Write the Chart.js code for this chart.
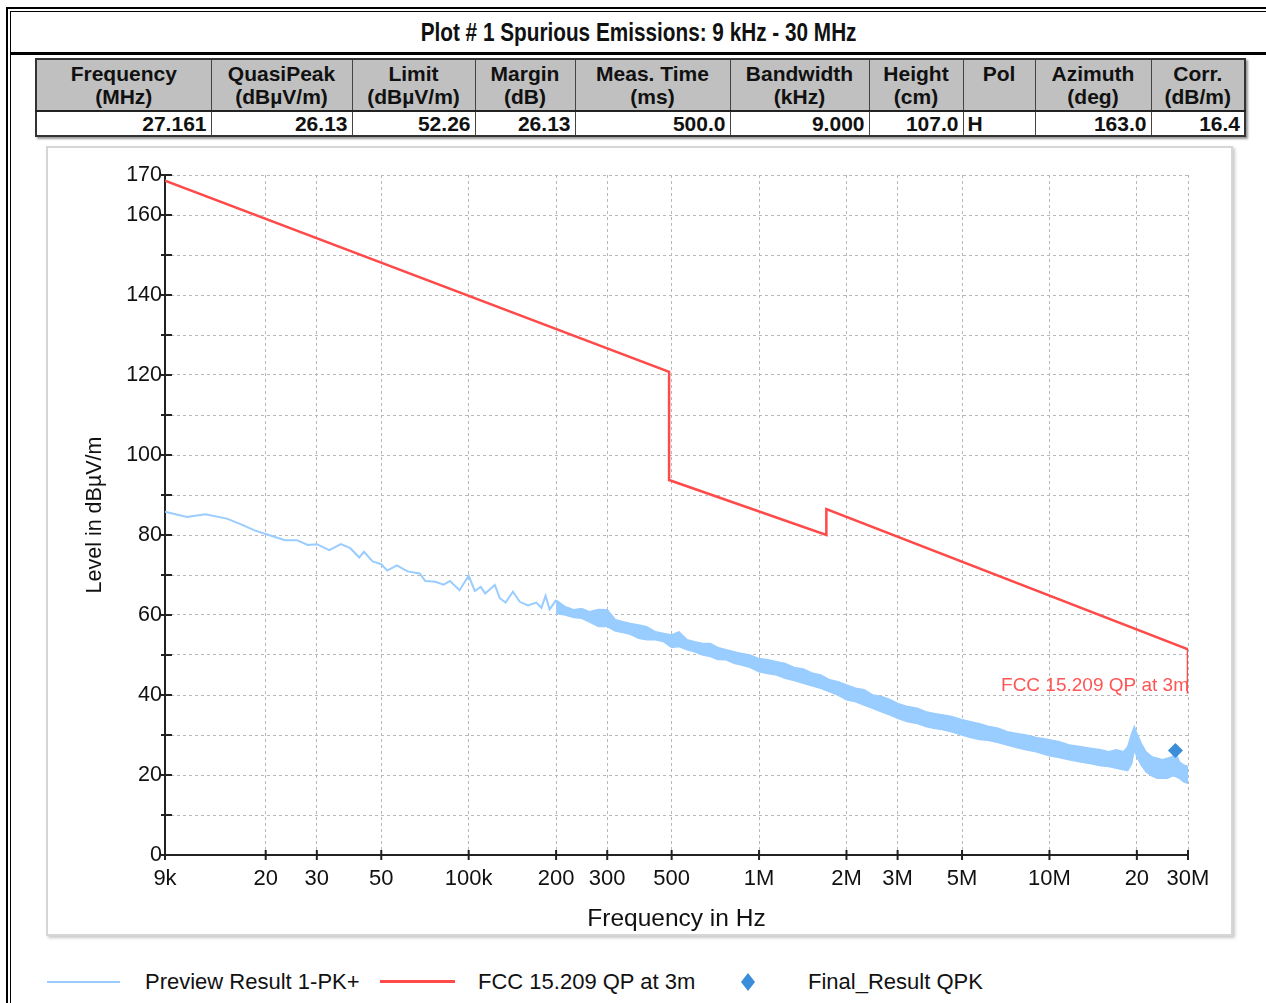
<!DOCTYPE html>
<html>
<head>
<meta charset="utf-8">
<script src="https://cdn.jsdelivr.net/npm/chart.js@4.4.1/dist/chart.umd.min.js"></script>
<style>
  html, body { margin: 0; padding: 0; background: #fff; overflow: hidden; }
  body { width: 1266px; height: 1003px; position: relative; font-family: "Liberation Sans", Arial, sans-serif; color: #111; }
  .line1 { position: absolute; left: 6px; top: 7px; right: -20px; bottom: -20px; border-left: 2px solid #000; border-top: 2px solid #000; }
  .line2 { position: absolute; left: 10px; top: 11px; right: -20px; bottom: -20px; border-left: 1px solid #000; border-top: 1px solid #000; }
  #title { position: absolute; left: 12px; right: 0; top: 18px; text-align: center; }
  #title span { display: inline-block; font: bold 25px "Liberation Sans", Arial, sans-serif; transform: scaleX(0.83); transform-origin: center; white-space: nowrap; }
  .rule { position: absolute; left: 11px; right: 0; top: 52px; height: 3px; background: #000; }
  #info { position: absolute; left: 35px; top: 58px; width: 1209px; table-layout: fixed; border-collapse: collapse; border: 2px solid #333; box-shadow: 2px 2px 2px #999; }
  #info td { border: 1px solid #444; padding: 0 4px; font: bold 21px "Liberation Sans", Arial, sans-serif; white-space: nowrap; overflow: hidden; }
  #info tr.head td { background: #c0c0c0; text-align: center; line-height: 23px; height: 50px; vertical-align: middle; }
  #info tr.vals td { background: #fff; text-align: right; height: 23px; line-height: 23px; border-top: 2px solid #222; }
  #info tr.vals td.left { text-align: left; }
  #panel { position: absolute; left: 46px; top: 146px; width: 1187px; height: 790px; box-sizing: border-box; border: 2px solid #d6d6d6; box-shadow: 2px 2px 3px #c8c8c8; }
  #chartBox { position: absolute; left: 48px; top: 148px; width: 1183px; height: 786px; }
  .lg { position: absolute; font: 22px "Liberation Sans", Arial, sans-serif; color: #111; top: 969px; }
  .sw { position: absolute; }
</style>
</head>
<body>
<div class="line1"></div>
<div class="line2"></div>
<div id="title"><span>Plot # 1 Spurious Emissions: 9 kHz - 30 MHz</span></div>
<div class="rule"></div>
<table id="info"></table>
<div id="panel"></div>
<div id="chartBox"><canvas id="emiChart" width="1183" height="786"></canvas></div>
<div id="legend"></div>
<script>
// Result table
const tableNames = ['Frequency', 'QuasiPeak', 'Limit', 'Margin', 'Meas. Time', 'Bandwidth', 'Height', 'Pol', 'Azimuth', 'Corr.'];
const tableUnits = ['(MHz)', '(dBµV/m)', '(dBµV/m)', '(dB)', '(ms)', '(kHz)', '(cm)', '', '(deg)', '(dB/m)'];
const tableRow = ['27.161', '26.13', '52.26', '26.13', '500.0', '9.000', '107.0', 'H', '163.0', '16.4'];
const colWidths = [175, 141, 123, 100, 155, 139, 94, 72, 116, 94];

// Preview Result 1-PK+ : single trace below 200 kHz (kHz / dBµV/m)
const previewFreq = [9, 10.7, 12.4, 14.7, 16.3, 18.4, 20.5, 23.3, 25.6, 27.9, 30, 33.1, 36.3, 39.1, 42, 43.6, 46.7, 50,
  52.4, 56.6, 61.5, 67.8, 70.9, 76.8, 82, 86.2, 93, 100, 105, 110, 114, 123, 128, 134, 142, 150, 160, 171, 178, 184, 190, 200];
const previewLevel = [85.8, 84.5, 85.2, 84.1, 82.8, 81.1, 80.0, 78.7, 78.7, 77.5, 77.7, 76.2, 77.7, 76.7, 74.4, 75.8, 73.4, 72.7,
  71.1, 72.4, 70.9, 70.4, 68.5, 68.3, 67.6, 68.5, 66.2, 69.8, 66.0, 67.0, 65.4, 67.5, 64.2, 63.1, 65.8, 63.3, 62.4, 63.1, 61.8, 64.8, 61.4, 63.7];

// Preview trace above 200 kHz is a noise band: upper and lower edge (kHz / dBµV/m)
const bandFreq = [200, 215, 230, 245, 260, 280, 300, 320, 340, 360, 385, 410, 440, 470, 500, 530, 565, 600, 640, 680, 720, 770,
  820, 870, 930, 1000, 1070, 1150, 1230, 1320, 1420, 1520, 1630, 1750, 1870, 2000, 2150, 2300, 2460, 2640, 2830, 3000, 3250,
  3500, 3750, 4000, 4300, 4600, 5000, 5350, 5750, 6200, 6650, 7150, 7700, 8300, 9000, 10000, 10800, 11700, 12700, 13800,
  15000, 16000, 17000, 18000, 18600, 19200, 19600, 20000, 20700, 21500, 22500, 23500, 24500, 25500, 26500, 27200, 28000, 29000, 30000];
const bandHigh = [63.7, 62.1, 61.3, 61.6, 60.8, 61.4, 61.3, 58.8, 58.3, 57.9, 57.5, 57.1, 55.8, 55.4, 55.0, 55.8, 53.8, 53.3, 52.9, 52.9, 51.9, 51.3,
  50.8, 50.4, 50.0, 49.1, 48.8, 48.3, 47.9, 46.9, 46.5, 45.5, 45.0, 43.8, 43.3, 42.5, 41.7, 41.3, 40.0, 39.6, 38.8, 37.9, 37.1,
  36.7, 35.8, 35.4, 35.0, 34.6, 33.8, 33.3, 32.8, 32.1, 31.7, 30.8, 30.4, 30.0, 29.4, 28.8, 28.3, 27.5, 27.1, 26.7,
  26.3, 25.8, 26.3, 25.8, 27.1, 30.4, 32.1, 30.4, 27.9, 25.8, 24.6, 24.2, 23.8, 24.2, 24.6, 25.8, 23.3, 22.5, 22.1];
const bandLow = [60.4, 60.0, 59.4, 59.2, 58.3, 57.1, 57.1, 56.0, 55.6, 55.2, 54.2, 53.8, 53.8, 53.3, 51.9, 52.1, 51.3, 50.8, 50.0, 49.6, 48.9, 48.8,
  47.9, 47.5, 46.9, 45.8, 45.4, 45.0, 44.2, 43.6, 42.9, 42.3, 41.7, 40.8, 40.0, 38.8, 38.3, 37.5, 36.7, 35.8, 35.0, 34.2, 33.3,
  32.9, 32.1, 31.7, 31.3, 30.8, 30.0, 29.4, 28.9, 28.6, 28.1, 27.5, 26.9, 26.3, 25.8, 24.8, 24.4, 23.8, 23.3, 22.9,
  22.3, 22.1, 21.7, 21.3, 21.1, 22.9, 26.3, 24.6, 22.5, 20.8, 19.8, 19.2, 19.2, 19.2, 19.8, 19.6, 19.2, 18.3, 17.9];

// FCC 15.209 QP at 3m limit line (kHz / dBµV/m)
const limitFreq = [9, 490, 490, 1705, 1705, 30000, 30000];
const limitLevel = [168.6, 120.8, 93.75, 80.0, 86.5, 51.4, 40.4];

// Final_Result QPK
const finalFreq = [27161];
const finalLevel = [26.13];

// Axes
const xTickValues = [9e3, 2e4, 3e4, 5e4, 1e5, 2e5, 3e5, 5e5, 1e6, 2e6, 3e6, 5e6, 1e7, 2e7, 3e7];
const xTickLabels = ['9k', '20', '30', '50', '100k', '200', '300', '500', '1M', '2M', '3M', '5M', '10M', '20', '30M'];
const yTickValues = [0, 10, 20, 30, 40, 50, 60, 70, 80, 90, 100, 110, 120, 130, 140, 150, 160, 170];
const yTickLabels = ['0', '', '20', '', '40', '', '60', '', '80', '', '100', '', '120', '', '140', '', '160', '170'];

const seriesNames = ['Preview Result 1-PK+', 'FCC 15.209 QP at 3m', 'Final_Result QPK'];
const previewColor = 'rgb(153, 204, 255)';
const limitColor = '#ff4a4a';
const finalColor = '#3a8dd8';

// build table
const info = document.getElementById('info');
let html = '<colgroup>' + colWidths.map(w => '<col style="width:' + w + 'px">').join('') + '</colgroup><tr class="head">';
tableNames.forEach((n, i) => {
  html += '<td>' + n + (tableUnits[i] ? '<br>' + tableUnits[i] : '<br>&nbsp;') + '</td>';
});
html += '</tr><tr class="vals">';
tableRow.forEach((v, i) => {
  html += '<td' + (tableNames[i] === 'Pol' ? ' class="left"' : '') + '>' + v + '</td>';
});
info.innerHTML = html + '</tr>';

const toPts = (fs, vs) => fs.map((f, i) => ({ x: f * 1000, y: vs[i] }));

const axisPlugin = {
  id: 'axisPlugin',
  beforeDatasetsDraw(chart) {
    const { ctx, chartArea: a, scales: { x, y } } = chart;
    ctx.save();
    ctx.strokeStyle = '#222';
    ctx.lineWidth = 2;
    ctx.beginPath();
    ctx.moveTo(a.left, a.top);
    ctx.lineTo(a.left, a.bottom);
    ctx.lineTo(a.right, a.bottom);
    ctx.stroke();
    ctx.beginPath();
    y.ticks.forEach(t => {
      const py = y.getPixelForValue(t.value);
      ctx.moveTo(a.left - 4, py);
      ctx.lineTo(a.left + 7, py);
    });
    x.ticks.forEach(t => {
      const px = x.getPixelForValue(t.value);
      ctx.moveTo(px, a.bottom - 5);
      ctx.lineTo(px, a.bottom + 5);
    });
    ctx.stroke();
    ctx.restore();
  },
  afterDatasetsDraw(chart) {
    const { ctx, scales: { x, y } } = chart;
    ctx.save();
    ctx.font = '19px "Liberation Sans", Arial, sans-serif';
    ctx.fillStyle = '#ff5555';
    ctx.textAlign = 'right';
    ctx.textBaseline = 'alphabetic';
    ctx.fillText(seriesNames[1], x.getPixelForValue(3e7) + 1, y.getPixelForValue(41));
    ctx.restore();
  }
};

const fontFamily = '"Liberation Sans", Arial, sans-serif';

new Chart(document.getElementById('emiChart'), {
  type: 'line',
  data: {
    datasets: [
      {
        label: seriesNames[0],
        data: toPts(previewFreq, previewLevel),
        borderColor: previewColor, borderWidth: 2, pointRadius: 0, order: 3
      },
      {
        label: 'band-high',
        data: toPts(bandFreq, bandHigh),
        borderColor: previewColor, borderWidth: 1.5, pointRadius: 0, order: 3
      },
      {
        label: 'band-low',
        data: toPts(bandFreq, bandLow),
        borderColor: previewColor, borderWidth: 1.5, pointRadius: 0, order: 3,
        fill: '-1', backgroundColor: previewColor
      },
      {
        label: seriesNames[1],
        data: toPts(limitFreq, limitLevel),
        borderColor: limitColor, borderWidth: 2.5, pointRadius: 0, order: 1
      },
      {
        label: seriesNames[2],
        data: toPts(finalFreq, finalLevel),
        showLine: false, pointStyle: 'rectRot', pointRadius: 7.5,
        backgroundColor: finalColor, borderColor: finalColor, borderWidth: 0, order: 0
      }
    ]
  },
  options: {
    responsive: false,
    animation: false,
    devicePixelRatio: 1,
    events: [],
    layout: { padding: { left: 0, right: 43, top: 27, bottom: 0 } },
    plugins: {
      legend: { display: false },
      tooltip: { enabled: false }
    },
    scales: {
      x: {
        type: 'logarithmic',
        min: 9e3,
        max: 3e7,
        afterBuildTicks: s => { s.ticks = xTickValues.map(v => ({ value: v })); },
        afterFit: s => { s.height = 79; },
        grid: { color: '#b8b8b8', lineWidth: 1, drawTicks: false },
        border: { display: false, dash: [3, 3] },
        ticks: {
          autoSkip: false, maxRotation: 0, padding: 11, color: '#111',
          font: { family: fontFamily, size: 22 },
          callback: (v, i) => xTickLabels[i]
        },
        title: {
          display: true, text: 'Frequency in Hz', color: '#111',
          font: { family: fontFamily, size: 24.5 },
          padding: { top: 0, bottom: 0 }
        }
      },
      y: {
        min: 0,
        max: 170,
        afterBuildTicks: s => { s.ticks = yTickValues.map(v => ({ value: v })); },
        afterFit: s => { s.width = 117; },
        grid: { color: '#b8b8b8', lineWidth: 1, drawTicks: false },
        border: { display: false, dash: [3, 3] },
        ticks: {
          autoSkip: false, padding: 3, color: '#111',
          font: { family: fontFamily, size: 21.5 },
          callback: (v, i) => yTickLabels[i]
        },
        title: {
          display: true, text: 'Level in dBµV/m', color: '#111',
          font: { family: fontFamily, size: 21.5 },
          padding: { top: 34, bottom: 0 }
        }
      }
    }
  },
  plugins: [axisPlugin]
});

// legend below the plot panel
const legend = document.getElementById('legend');
legend.innerHTML =
  '<div class="sw" style="left:47px;top:981px;width:73px;height:2px;background:' + previewColor + '"></div>' +
  '<div class="lg" style="left:145px">' + seriesNames[0] + '</div>' +
  '<div class="sw" style="left:380px;top:980px;width:75px;height:3px;background:' + limitColor + '"></div>' +
  '<div class="lg" style="left:478px">' + seriesNames[1] + '</div>' +
  '<svg class="sw" style="left:741px;top:973px" width="14" height="18"><polygon points="7,0 14,9 7,18 0,9" fill="' + finalColor + '"/></svg>' +
  '<div class="lg" style="left:808px">' + seriesNames[2] + '</div>';
</script>
</body>
</html>
